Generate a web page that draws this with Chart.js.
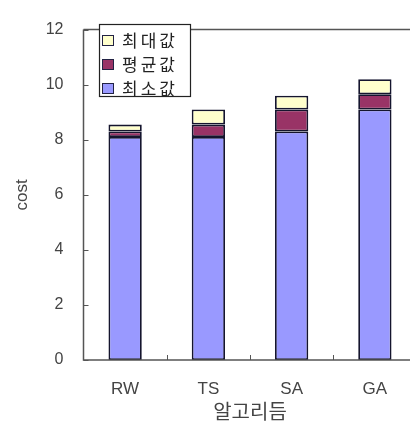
<!DOCTYPE html>
<html>
<head>
<meta charset="utf-8">
<script src="https://cdn.jsdelivr.net/npm/chart.js@4/dist/chart.umd.min.js"></script>
<style>
  html, body { margin: 0; padding: 0; background: #fff; overflow: hidden; }
  #wrap { width: 410px; height: 423px; overflow: hidden; position: relative; }
  canvas { display: block; }
</style>
</head>
<body>
<div id="wrap"><canvas id="c" width="430" height="423"></canvas></div>
<script>
// Algorithms compared and their cost statistics
const categories = ['RW', 'TS', 'SA', 'GA'];
const minVals = [8.1, 8.1, 8.3, 9.1];
const avgVals = [8.3, 8.55, 9.1, 9.65];
const maxVals = [8.55, 9.1, 9.6, 10.2];
const yTicks = [0, 2, 4, 6, 8, 10, 12];

const seriesNames = ['최소값', '평균값', '최대값'];
const seriesColors = ['#9999ff', '#993366', '#ffffcc'];

// Stack segments: min, then avg above min, then max above avg
const avgPart = avgVals.map((v, i) => +(v - minVals[i]).toFixed(3));
const maxPart = maxVals.map((v, i) => +(v - avgVals[i]).toFixed(3));

const axisColor = '#555555';
const textColor = '#444444';

const framePlugin = {
  id: 'frame',
  afterDraw(chart) {
    const { ctx, chartArea: a, scales } = chart;
    ctx.save();
    ctx.strokeStyle = axisColor;
    ctx.lineWidth = 1.5;
    ctx.beginPath();
    ctx.moveTo(a.left, a.top);
    ctx.lineTo(a.right, a.top);
    ctx.moveTo(a.left, a.top);
    ctx.lineTo(a.left, a.bottom);
    ctx.lineTo(a.right, a.bottom);
    ctx.stroke();
    // inward tick marks on the value axis
    ctx.lineWidth = 1;
    ctx.beginPath();
    yTicks.forEach(t => {
      const y = Math.round(scales.y.getPixelForValue(t)) + 0.5;
      ctx.moveTo(a.left, y);
      ctx.lineTo(a.left + 5, y);
    });
    // separators between categories
    const n = categories.length;
    for (let i = 1; i < n; i++) {
      const x = Math.round((scales.x.getPixelForValue(i - 1) + scales.x.getPixelForValue(i)) / 2) + 0.5;
      ctx.moveTo(x, a.bottom);
      ctx.lineTo(x, a.bottom - 5);
    }
    ctx.stroke();
    ctx.restore();
  }
};

const legendPlugin = {
  id: 'boxLegend',
  afterDraw(chart) {
    const { ctx } = chart;
    const bx = 99, by = 24, bw = 91, bh = 72;
    ctx.save();
    ctx.fillStyle = '#ffffff';
    ctx.fillRect(bx, by, bw, bh);
    ctx.strokeStyle = '#222222';
    ctx.lineWidth = 1.2;
    ctx.strokeRect(bx + 0.5, by + 0.5, bw, bh);
    ctx.font = '17px "Noto Sans CJK KR"';
    ctx.letterSpacing = '3px';
    ctx.textBaseline = 'middle';
    const order = [2, 1, 0];
    order.forEach((di, row) => {
      const cy = 40 + row * 24;
      ctx.fillStyle = seriesColors[di];
      ctx.fillRect(102, cy - 5, 11, 10);
      ctx.strokeStyle = '#222244';
      ctx.lineWidth = 1;
      ctx.strokeRect(102.5, cy - 4.5, 11, 10);
      ctx.fillStyle = '#222222';
      ctx.fillText(seriesNames[di], 122, cy + 1);
    });
    ctx.restore();
  }
};

new Chart(document.getElementById('c'), {
  type: 'bar',
  data: {
    labels: categories,
    datasets: [
      { label: seriesNames[0], data: minVals, backgroundColor: seriesColors[0] },
      { label: seriesNames[1], data: avgPart, backgroundColor: seriesColors[1] },
      { label: seriesNames[2], data: maxPart, backgroundColor: seriesColors[2] }
    ].map(d => Object.assign(d, {
      borderColor: '#15152e',
      borderWidth: 1.8,
      borderSkipped: false,
      barPercentage: 0.4,
      categoryPercentage: 1
    }))
  },
  options: {
    responsive: false,
    animation: false,
    layout: { padding: { top: 17, right: 13.5, left: 0, bottom: 0 } },
    plugins: { legend: { display: false }, tooltip: { enabled: false } },
    scales: {
      x: {
        stacked: true,
        grid: { display: false, drawTicks: false },
        border: { display: false },
        ticks: { color: textColor, padding: 19, font: { family: 'Liberation Sans', size: 17 } },
        title: {
          display: true, text: '알고리듬', color: textColor,
          font: { family: 'Noto Sans CJK KR', size: 20 },
          padding: { top: 0, bottom: 0 }
        },
        afterFit(s) { s.height = 63; }
      },
      y: {
        stacked: true,
        min: 0, max: 12,
        grid: { display: false, drawTicks: false },
        border: { display: false },
        ticks: { stepSize: 2, color: textColor, padding: 20, font: { family: 'Liberation Sans', size: 16 } },
        title: {
          display: true, text: 'cost', color: textColor,
          font: { family: 'Liberation Sans', size: 17 },
          padding: { top: 12, bottom: 0 }
        },
        afterFit(s) { s.width = 83.5; }
      }
    }
  },
  plugins: [framePlugin, legendPlugin]
});
</script>
</body>
</html>
